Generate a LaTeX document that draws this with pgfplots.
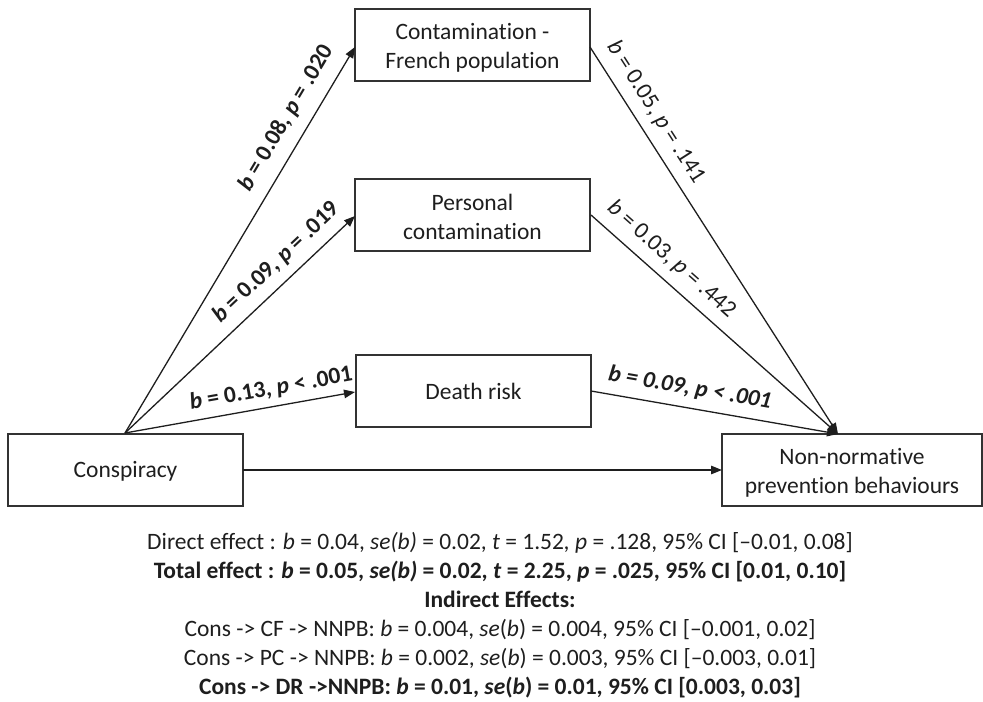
\documentclass[border=0pt]{standalone}
\usepackage{fontspec}
\setmainfont{Carlito}[Ligatures={TeX,NoCommon}]
\usepackage{pgfplots}
\pgfplotsset{compat=1.18}
\usetikzlibrary{arrows.meta}
\definecolor{ink}{RGB}{30,30,30}
\definecolor{boxline}{RGB}{50,50,50}

\begin{document}
\begin{tikzpicture}[font=\fontsize{23.5}{29}\selectfont, text=ink,
    arr/.style={ink, line width=1.3pt, -{Triangle[length=11pt,width=8.5pt]}},
    box/.style={boxline, line width=1.4pt, line cap=rect, line join=miter},
    lab/.style={sloped, inner sep=0pt, text=ink}]
\begin{axis}[x=1pt, y=1pt, xmin=0, xmax=983, ymin=0, ymax=701, y dir=reverse,
    hide axis, clip=false]
% page frame
\addplot[draw=none] coordinates {(0,0) (983,0) (983,701) (0,701)};
% boxes
\addplot[box] coordinates {(355,9) (590,9) (590,81) (355,81) (355,9)};
\addplot[box] coordinates {(355,179) (590,179) (590,251) (355,251) (355,179)};
\addplot[box] coordinates {(356,355) (591,355) (591,427) (356,427) (356,355)};
\addplot[box] coordinates {(8,434) (243,434) (243,506) (8,506) (8,434)};
\addplot[box] coordinates {(722,434) (982,434) (982,506) (722,506) (722,434)};
\node[align=center] at (axis cs:472.5,47.5) {Contamination -\\French population};
\node[align=center] at (axis cs:472.5,217) {Personal\\contamination};
\node at (axis cs:473.5,391.5) {Death risk};
\node at (axis cs:125.5,471) {Conspiracy};
\node[align=center] at (axis cs:852,472.5) {Non-normative\\prevention behaviours};
% a paths
\addplot[arr] coordinates {(125,433) (355,47)}
  node[lab, pos=0.786, above=12pt] {\bfseries\textit{b} = 0.08, \textit{p} = .020};
\addplot[arr] coordinates {(125,433) (355,216)}
  node[lab, pos=0.718, above=9.5pt] {\bfseries\textit{b} = 0.09, \textit{p} = .019};
\addplot[arr] coordinates {(125,433) (355,392)}
  node[lab, pos=0.649, above=7pt] {\bfseries\textit{b} = 0.13, \textit{p} < .001};
% b paths
\addplot[arr] coordinates {(590,47) (838,434)}
  node[lab, pos=0.197, above=9.5pt] {\textit{b} = 0.05, \textit{p} = .141};
\addplot[arr] coordinates {(591,215) (838,434)}
  node[lab, pos=0.272, above=9.5pt] {\textit{b} = 0.03, \textit{p} = .442};
\addplot[arr] coordinates {(591,391) (838,434)}
  node[lab, pos=0.387, above=9pt] {\bfseries\itshape b = 0.09, p < .001};
% direct path
\addplot[arr] coordinates {(243,470) (722,470)};
% effects
\node[align=center] at (axis cs:500,615.5) {%
Direct effect : \textit{b} = 0.04, \textit{se(b)} = 0.02, \textit{t} = 1.52\textit{,} \textit{p} = .128, 95\% CI [\textendash0.01, 0.08]\\
\textbf{Total effect : \textit{b} = 0.05, \textit{se(b)} = 0.02, \textit{t} = 2.25, \textit{p} = .025, 95\% CI [0.01, 0.10]}\\
\textbf{Indirect Effects:}\\
Cons -> CF -> NNPB: \textit{b} = 0.004, \textit{se}(\textit{b}) = 0.004, 95\% CI [\textendash0.001, 0.02]\\
Cons -> PC -> NNPB: \textit{b} = 0.002, \textit{se}(\textit{b}) = 0.003, 95\% CI [\textendash0.003, 0.01]\\
\textbf{Cons -> DR ->NNPB: \textit{b} = 0.01, \textit{se}(\textit{b}) = 0.01, 95\% CI [0.003, 0.03]}};
\end{axis}
\end{tikzpicture}
\end{document}
